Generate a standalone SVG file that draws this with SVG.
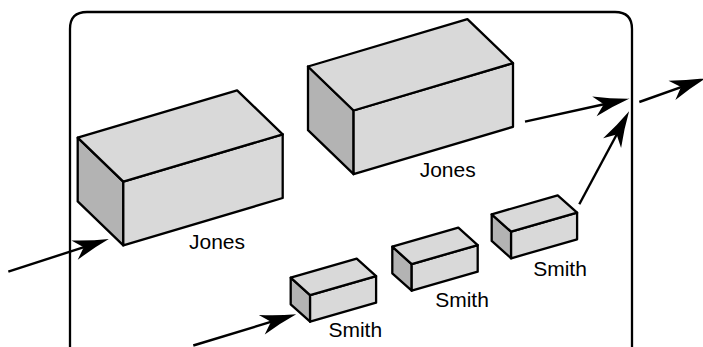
<svg xmlns="http://www.w3.org/2000/svg" width="703" height="347" viewBox="0 0 703 347">
  <style>
    .frame { fill: none; stroke: #000; stroke-width: 2.3; }
    .face { fill: #d9d9d9; stroke: #000; stroke-width: 2.3; stroke-linejoin: round; }
    .side { fill: #b3b3b3; stroke: #000; stroke-width: 2.3; stroke-linejoin: round; }
    .label { font-family: "Liberation Sans", Arial, sans-serif; font-size: 21px; fill: #000; text-anchor: middle; }
    .arrow { fill: none; stroke: #000; stroke-width: 2.4; marker-end: url(#head); }
  </style>
  <defs>
    <marker id="head" markerUnits="userSpaceOnUse" markerWidth="40" markerHeight="24" viewBox="-16 -10 32 20" refX="0" refY="0" orient="auto" overflow="visible">
      <path d="M15,0 Q0,-3.2 -15,-8.5 L-7,0 L-15,8.5 Q0,3.2 15,0 Z" fill="#000"/>
    </marker>
  </defs>

  <!-- enclosing frame, open at the bottom -->
  <path class="frame" d="M70,352 V29 Q70,12 87,12 H615 Q632,12 632,29 V352"/>

  <!-- large record block, lower left -->
  <g id="jones-1">
    <polygon class="side" points="77.7,137.7 123.3,181.7 123.3,245.4 77.7,201.4"/>
    <polygon class="face" points="123.3,181.7 282.7,134.3 282.7,198 123.3,245.4"/>
    <polygon class="face" points="77.7,137.7 237.1,90.3 282.7,134.3 123.3,181.7"/>
    <text class="label" x="217" y="249">Jones</text>
  </g>

  <!-- large record block, upper -->
  <g id="jones-2">
    <polygon class="side" points="308,66.5 353.6,110.5 353.6,174.2 308,130.2"/>
    <polygon class="face" points="353.6,110.5 513,63.1 513,126.8 353.6,174.2"/>
    <polygon class="face" points="308,66.5 467.4,19.1 513,63.1 353.6,110.5"/>
    <text class="label" x="447.7" y="176.5">Jones</text>
  </g>

  <!-- small record blocks -->
  <g id="smith-1">
    <polygon class="side" points="290.7,277.7 310.1,295.1 310.1,321.7 290.7,304.3"/>
    <polygon class="face" points="310.1,295.1 376.1,276.1 376.1,302.7 310.1,321.7"/>
    <polygon class="face" points="290.7,277.7 356.7,258.7 376.1,276.1 310.1,295.1"/>
    <text class="label" x="355.3" y="337">Smith</text>
  </g>

  <g id="smith-2">
    <polygon class="side" points="392.3,246.7 411.7,264.1 411.7,290.7 392.3,273.3"/>
    <polygon class="face" points="411.7,264.1 477.7,245.1 477.7,271.7 411.7,290.7"/>
    <polygon class="face" points="392.3,246.7 458.3,227.7 477.7,245.1 411.7,264.1"/>
    <text class="label" x="462" y="307">Smith</text>
  </g>

  <g id="smith-3">
    <polygon class="side" points="491.7,214.3 511.1,231.7 511.1,258.3 491.7,240.9"/>
    <polygon class="face" points="511.1,231.7 577.1,212.7 577.1,239.3 511.1,258.3"/>
    <polygon class="face" points="491.7,214.3 557.7,195.3 577.1,212.7 511.1,231.7"/>
    <text class="label" x="560" y="276">Smith</text>
  </g>

  <!-- flow arrows -->
  <g id="connectors">
    <path class="arrow" d="M8.3,271.7 L91.7,244.6"/>
    <path class="arrow" d="M193.3,345.5 L279,319.4"/>
    <path class="arrow" d="M525,121.7 L612,102.5"/>
    <path class="arrow" d="M579.3,204.3 L620.6,127.2"/>
    <path class="arrow" d="M639.3,102 L688.9,84.3"/>
  </g>
</svg>
